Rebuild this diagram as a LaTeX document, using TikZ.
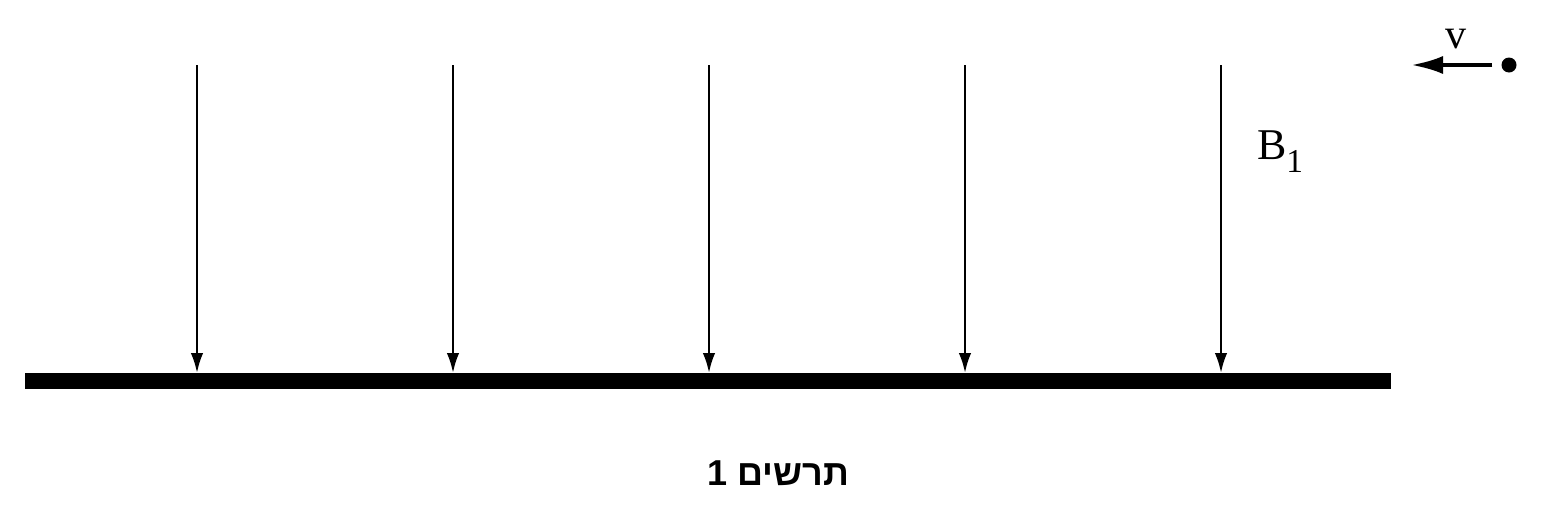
\documentclass[tikz,border=0pt]{standalone}
\usepackage{fontspec}
\setmainfont{Liberation Serif}
\newfontfamily\hebfont[Script=Hebrew]{Liberation Sans}
\TeXXeTstate=1
\usetikzlibrary{arrows.meta}

\begin{document}
\begin{tikzpicture}[x=0.02cm, y=-0.02cm, >={Latex[length=0.4cm, width=0.25cm]}]
  \useasboundingbox (0,0) rectangle (1543,511);
  % Define plate
  \coordinate (barL) at (25,381);
  \coordinate (barR) at (1391,381);
  \draw [line width=0.32cm] (barL) -- (barR);

  % Field lines onto the plate
  \foreach \x [count=\i] in {197,453,709,965,1221} {
    \coordinate (top\i) at (\x,65);
    \coordinate (hit\i) at (\x,373);
    \draw [->, line width=1.4pt] (top\i) -- (hit\i);
  }
  \node [font=\fontsize{25}{30}\selectfont] (B) at (1280,152) {B\raisebox{-0.3em}{\fontsize{19}{22}\selectfont 1}};

  % Moving charge
  \node [circle, fill, inner sep=0pt, minimum size=0.3cm] (dot) at (1509,65) {};
  \coordinate (vend) at (1411,65);
  \draw [-{Latex[length=0.64cm, width=0.36cm]}, line width=2.3pt, shorten <=5pt] (dot) -- node [midway, above, yshift=6pt, font=\fontsize{24}{28}\selectfont, inner sep=2pt] (v) {v} (vend);

  % Caption
  \node [font=\hebfont\bfseries\fontsize{20.5}{24}\selectfont] (caption) at (778,473) {\beginR תרשים 1\endR};
\end{tikzpicture}
\end{document}
